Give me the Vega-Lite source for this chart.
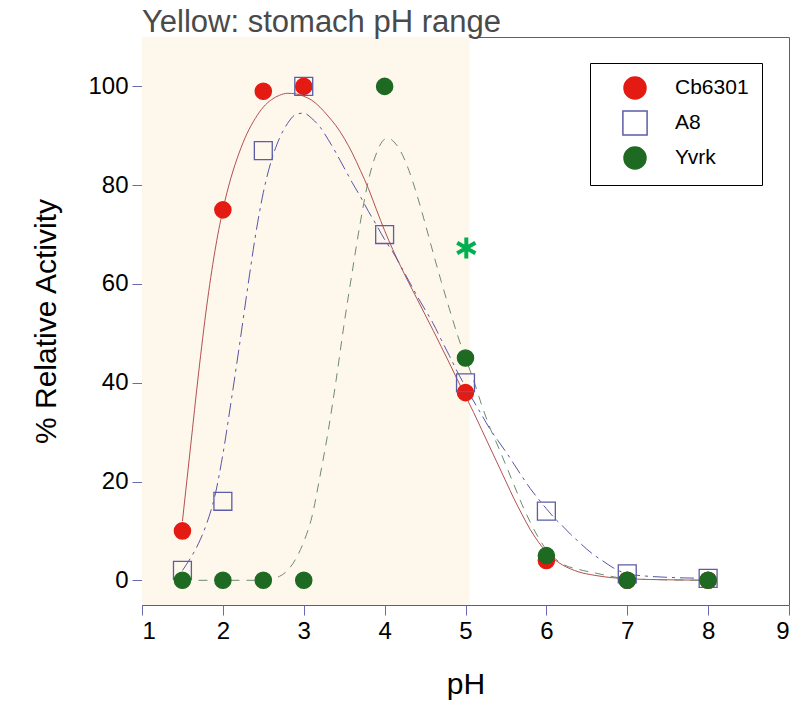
{
  "$schema": "https://vega.github.io/schema/vega-lite/v6.json",
  "width": 647,
  "height": 568,
  "autosize": "none",
  "padding": {"left": 142, "top": 37, "right": 22, "bottom": 98},
  "background": "white",
  "title": {"text": "Yellow: stomach pH range", "anchor": "start", "frame": "group", "fontSize": 31, "font": "Liberation Sans", "fontWeight": "normal", "color": "#4a4a4a", "baseline": "alphabetic", "offset": -26},
  "config": {
    "view": {"stroke": "#606060", "strokeWidth": 1},
    "axis": {"grid": false, "domain": false, "tickColor": "#6a6ab0", "tickSize": 10, "labelFont": "Liberation Sans", "labelFontSize": 24, "labelColor": "black", "labelPadding": 4, "titleFont": "Liberation Sans", "titleFontSize": 30, "titleFontWeight": "normal", "titleColor": "black", "format": "d"}
  },
  "datasets": {
    "shade": [{"x1": 1, "x2": 5.05, "y1": -5, "y2": 110}],
    "sig": [{"pH": 5.01, "activity": 67.3}],
    "points": [
      {"series": "Cb6301", "pH": 1.5, "activity": 10},
      {"series": "Cb6301", "pH": 2, "activity": 75},
      {"series": "Cb6301", "pH": 2.5, "activity": 99},
      {"series": "Cb6301", "pH": 3, "activity": 100},
      {"series": "Cb6301", "pH": 5, "activity": 38},
      {"series": "Cb6301", "pH": 6, "activity": 4},
      {"series": "Cb6301", "pH": 7, "activity": 0},
      {"series": "Cb6301", "pH": 8, "activity": 0},
      {"series": "A8", "pH": 1.5, "activity": 2},
      {"series": "A8", "pH": 2, "activity": 16},
      {"series": "A8", "pH": 2.5, "activity": 87},
      {"series": "A8", "pH": 3, "activity": 100},
      {"series": "A8", "pH": 4, "activity": 70},
      {"series": "A8", "pH": 5, "activity": 40},
      {"series": "A8", "pH": 6, "activity": 14},
      {"series": "A8", "pH": 7, "activity": 1.3},
      {"series": "A8", "pH": 8, "activity": 0.4},
      {"series": "Yvrk", "pH": 1.5, "activity": 0},
      {"series": "Yvrk", "pH": 2, "activity": 0},
      {"series": "Yvrk", "pH": 2.5, "activity": 0},
      {"series": "Yvrk", "pH": 3, "activity": 0},
      {"series": "Yvrk", "pH": 4, "activity": 100},
      {"series": "Yvrk", "pH": 5, "activity": 45},
      {"series": "Yvrk", "pH": 6, "activity": 5},
      {"series": "Yvrk", "pH": 7, "activity": 0},
      {"series": "Yvrk", "pH": 8, "activity": 0}
    ],
    "curves": [
      {"series": "Cb6301", "pH": 1.5, "activity": 12},
      {"series": "Cb6301", "pH": 1.6, "activity": 27},
      {"series": "Cb6301", "pH": 1.7, "activity": 42},
      {"series": "Cb6301", "pH": 1.8, "activity": 55.5},
      {"series": "Cb6301", "pH": 1.9, "activity": 66.5},
      {"series": "Cb6301", "pH": 2.0, "activity": 75},
      {"series": "Cb6301", "pH": 2.1, "activity": 81.5},
      {"series": "Cb6301", "pH": 2.2, "activity": 86.5},
      {"series": "Cb6301", "pH": 2.3, "activity": 90.5},
      {"series": "Cb6301", "pH": 2.4, "activity": 93.5},
      {"series": "Cb6301", "pH": 2.5, "activity": 95.8},
      {"series": "Cb6301", "pH": 2.6, "activity": 97.3},
      {"series": "Cb6301", "pH": 2.7, "activity": 98.2},
      {"series": "Cb6301", "pH": 2.8, "activity": 98.6},
      {"series": "Cb6301", "pH": 2.9, "activity": 98.5},
      {"series": "Cb6301", "pH": 3.0, "activity": 98},
      {"series": "Cb6301", "pH": 3.1, "activity": 97.2},
      {"series": "Cb6301", "pH": 3.2, "activity": 95.8},
      {"series": "Cb6301", "pH": 3.3, "activity": 94},
      {"series": "Cb6301", "pH": 3.4, "activity": 92},
      {"series": "Cb6301", "pH": 3.5, "activity": 89.5},
      {"series": "Cb6301", "pH": 3.6, "activity": 86.5},
      {"series": "Cb6301", "pH": 3.7, "activity": 83},
      {"series": "Cb6301", "pH": 3.8, "activity": 79.3},
      {"series": "Cb6301", "pH": 3.9, "activity": 75},
      {"series": "Cb6301", "pH": 4.0, "activity": 70.8},
      {"series": "Cb6301", "pH": 4.1, "activity": 67},
      {"series": "Cb6301", "pH": 4.2, "activity": 63.5},
      {"series": "Cb6301", "pH": 4.3, "activity": 60.2},
      {"series": "Cb6301", "pH": 4.4, "activity": 57},
      {"series": "Cb6301", "pH": 4.5, "activity": 53.8},
      {"series": "Cb6301", "pH": 4.6, "activity": 50.6},
      {"series": "Cb6301", "pH": 4.7, "activity": 47.3},
      {"series": "Cb6301", "pH": 4.8, "activity": 44},
      {"series": "Cb6301", "pH": 4.9, "activity": 40.6},
      {"series": "Cb6301", "pH": 5.0, "activity": 37.3},
      {"series": "Cb6301", "pH": 5.1, "activity": 34},
      {"series": "Cb6301", "pH": 5.2, "activity": 30.5},
      {"series": "Cb6301", "pH": 5.3, "activity": 27},
      {"series": "Cb6301", "pH": 5.4, "activity": 23.5},
      {"series": "Cb6301", "pH": 5.5, "activity": 20},
      {"series": "Cb6301", "pH": 5.6, "activity": 16.5},
      {"series": "Cb6301", "pH": 5.7, "activity": 13.3},
      {"series": "Cb6301", "pH": 5.8, "activity": 10.3},
      {"series": "Cb6301", "pH": 5.9, "activity": 7.8},
      {"series": "Cb6301", "pH": 6.0, "activity": 5.7},
      {"series": "Cb6301", "pH": 6.1, "activity": 4.2},
      {"series": "Cb6301", "pH": 6.2, "activity": 3.1},
      {"series": "Cb6301", "pH": 6.3, "activity": 2.3},
      {"series": "Cb6301", "pH": 6.4, "activity": 1.7},
      {"series": "Cb6301", "pH": 6.6, "activity": 1},
      {"series": "Cb6301", "pH": 6.8, "activity": 0.55},
      {"series": "Cb6301", "pH": 7.0, "activity": 0.3},
      {"series": "Cb6301", "pH": 7.5, "activity": 0.1},
      {"series": "Cb6301", "pH": 8.0, "activity": 0},
      {"series": "A8", "pH": 1.5, "activity": 2},
      {"series": "A8", "pH": 1.6, "activity": 4.5},
      {"series": "A8", "pH": 1.7, "activity": 7.5},
      {"series": "A8", "pH": 1.8, "activity": 11.5},
      {"series": "A8", "pH": 1.9, "activity": 17},
      {"series": "A8", "pH": 2.0, "activity": 25.5},
      {"series": "A8", "pH": 2.1, "activity": 36},
      {"series": "A8", "pH": 2.2, "activity": 47},
      {"series": "A8", "pH": 2.3, "activity": 58.5},
      {"series": "A8", "pH": 2.4, "activity": 69.5},
      {"series": "A8", "pH": 2.5, "activity": 78.5},
      {"series": "A8", "pH": 2.6, "activity": 85},
      {"series": "A8", "pH": 2.7, "activity": 89.5},
      {"series": "A8", "pH": 2.8, "activity": 92.5},
      {"series": "A8", "pH": 2.9, "activity": 94.3},
      {"series": "A8", "pH": 3.0, "activity": 94.6},
      {"series": "A8", "pH": 3.1, "activity": 93.5},
      {"series": "A8", "pH": 3.2, "activity": 91.8},
      {"series": "A8", "pH": 3.3, "activity": 89.3},
      {"series": "A8", "pH": 3.4, "activity": 86.5},
      {"series": "A8", "pH": 3.5, "activity": 83.5},
      {"series": "A8", "pH": 3.6, "activity": 80.5},
      {"series": "A8", "pH": 3.7, "activity": 77.7},
      {"series": "A8", "pH": 3.8, "activity": 74.7},
      {"series": "A8", "pH": 3.9, "activity": 71.9},
      {"series": "A8", "pH": 4.0, "activity": 69},
      {"series": "A8", "pH": 4.1, "activity": 66.5},
      {"series": "A8", "pH": 4.2, "activity": 63.6},
      {"series": "A8", "pH": 4.3, "activity": 60.6},
      {"series": "A8", "pH": 4.4, "activity": 57.6},
      {"series": "A8", "pH": 4.5, "activity": 54.8},
      {"series": "A8", "pH": 4.6, "activity": 52},
      {"series": "A8", "pH": 4.7, "activity": 48.7},
      {"series": "A8", "pH": 4.8, "activity": 45.5},
      {"series": "A8", "pH": 4.9, "activity": 42.2},
      {"series": "A8", "pH": 5.0, "activity": 39.2},
      {"series": "A8", "pH": 5.1, "activity": 36.3},
      {"series": "A8", "pH": 5.2, "activity": 33.5},
      {"series": "A8", "pH": 5.3, "activity": 30.7},
      {"series": "A8", "pH": 5.4, "activity": 28.3},
      {"series": "A8", "pH": 5.5, "activity": 26},
      {"series": "A8", "pH": 5.6, "activity": 23.5},
      {"series": "A8", "pH": 5.7, "activity": 21},
      {"series": "A8", "pH": 5.8, "activity": 18.6},
      {"series": "A8", "pH": 5.9, "activity": 16.5},
      {"series": "A8", "pH": 6.0, "activity": 14.5},
      {"series": "A8", "pH": 6.1, "activity": 12.6},
      {"series": "A8", "pH": 6.2, "activity": 11},
      {"series": "A8", "pH": 6.3, "activity": 9.3},
      {"series": "A8", "pH": 6.4, "activity": 7.8},
      {"series": "A8", "pH": 6.5, "activity": 6.3},
      {"series": "A8", "pH": 6.6, "activity": 5},
      {"series": "A8", "pH": 6.7, "activity": 3.9},
      {"series": "A8", "pH": 6.8, "activity": 2.8},
      {"series": "A8", "pH": 6.9, "activity": 1.9},
      {"series": "A8", "pH": 7.0, "activity": 1.3},
      {"series": "A8", "pH": 7.2, "activity": 0.9},
      {"series": "A8", "pH": 7.5, "activity": 0.6},
      {"series": "A8", "pH": 8.0, "activity": 0.4},
      {"series": "Yvrk", "pH": 1.5, "activity": 0},
      {"series": "Yvrk", "pH": 2.0, "activity": 0},
      {"series": "Yvrk", "pH": 2.5, "activity": 0},
      {"series": "Yvrk", "pH": 2.6, "activity": 0.3},
      {"series": "Yvrk", "pH": 2.7, "activity": 0.8},
      {"series": "Yvrk", "pH": 2.8, "activity": 2},
      {"series": "Yvrk", "pH": 2.9, "activity": 4.3},
      {"series": "Yvrk", "pH": 3.0, "activity": 7.8},
      {"series": "Yvrk", "pH": 3.1, "activity": 12.8},
      {"series": "Yvrk", "pH": 3.2, "activity": 21},
      {"series": "Yvrk", "pH": 3.3, "activity": 30},
      {"series": "Yvrk", "pH": 3.4, "activity": 40.5},
      {"series": "Yvrk", "pH": 3.5, "activity": 52},
      {"series": "Yvrk", "pH": 3.6, "activity": 62.5},
      {"series": "Yvrk", "pH": 3.7, "activity": 72.5},
      {"series": "Yvrk", "pH": 3.8, "activity": 81},
      {"series": "Yvrk", "pH": 3.9, "activity": 86.5},
      {"series": "Yvrk", "pH": 4.0, "activity": 89.3},
      {"series": "Yvrk", "pH": 4.05, "activity": 89.5},
      {"series": "Yvrk", "pH": 4.1, "activity": 89},
      {"series": "Yvrk", "pH": 4.2, "activity": 86.8},
      {"series": "Yvrk", "pH": 4.3, "activity": 83},
      {"series": "Yvrk", "pH": 4.4, "activity": 78},
      {"series": "Yvrk", "pH": 4.5, "activity": 72.3},
      {"series": "Yvrk", "pH": 4.6, "activity": 66.3},
      {"series": "Yvrk", "pH": 4.7, "activity": 60.5},
      {"series": "Yvrk", "pH": 4.8, "activity": 55},
      {"series": "Yvrk", "pH": 4.9, "activity": 49.7},
      {"series": "Yvrk", "pH": 5.0, "activity": 45},
      {"series": "Yvrk", "pH": 5.1, "activity": 40.5},
      {"series": "Yvrk", "pH": 5.2, "activity": 35.5},
      {"series": "Yvrk", "pH": 5.3, "activity": 31},
      {"series": "Yvrk", "pH": 5.4, "activity": 27.2},
      {"series": "Yvrk", "pH": 5.5, "activity": 23.3},
      {"series": "Yvrk", "pH": 5.6, "activity": 19.3},
      {"series": "Yvrk", "pH": 5.7, "activity": 15.3},
      {"series": "Yvrk", "pH": 5.8, "activity": 11.8},
      {"series": "Yvrk", "pH": 5.9, "activity": 8.7},
      {"series": "Yvrk", "pH": 6.0, "activity": 6.2},
      {"series": "Yvrk", "pH": 6.1, "activity": 4.5},
      {"series": "Yvrk", "pH": 6.2, "activity": 3.3},
      {"series": "Yvrk", "pH": 6.4, "activity": 2.2},
      {"series": "Yvrk", "pH": 6.6, "activity": 1.5},
      {"series": "Yvrk", "pH": 6.8, "activity": 0.8},
      {"series": "Yvrk", "pH": 7.0, "activity": 0.3},
      {"series": "Yvrk", "pH": 7.5, "activity": 0.1},
      {"series": "Yvrk", "pH": 8.0, "activity": 0}
    ]
  },
  "layer": [
    {
      "data": {"name": "shade"},
      "mark": {"type": "rect", "fill": "#fef7ec"},
      "encoding": {
        "x": {"field": "x1", "type": "quantitative", "scale": {"domain": [1, 9], "nice": false, "zero": false}, "axis": {"title": "pH", "values": [1, 2, 3, 4, 5, 6, 7, 8, 9], "titlePadding": 26}},
        "x2": {"field": "x2"},
        "y": {"field": "y1", "type": "quantitative", "scale": {"domain": [-5, 110], "nice": false, "zero": false}, "axis": {"title": "% Relative Activity", "values": [0, 20, 40, 60, 80, 100], "titlePadding": 26}},
        "y2": {"field": "y2"}
      }
    },
    {
      "data": {"name": "curves"},
      "transform": [{"filter": "datum.series === 'Cb6301'"}],
      "mark": {"type": "line", "interpolate": "monotone", "stroke": "#b35050", "strokeWidth": 1},
      "encoding": {"x": {"field": "pH", "type": "quantitative"}, "y": {"field": "activity", "type": "quantitative"}}
    },
    {
      "data": {"name": "curves"},
      "transform": [{"filter": "datum.series === 'A8'"}],
      "mark": {"type": "line", "interpolate": "monotone", "stroke": "#5555a8", "strokeWidth": 1, "strokeDash": [14, 5, 3, 5]},
      "encoding": {"x": {"field": "pH", "type": "quantitative"}, "y": {"field": "activity", "type": "quantitative"}}
    },
    {
      "data": {"name": "curves"},
      "transform": [{"filter": "datum.series === 'Yvrk'"}],
      "mark": {"type": "line", "interpolate": "monotone", "stroke": "#6f8a6f", "strokeWidth": 1, "strokeDash": [9, 7]},
      "encoding": {"x": {"field": "pH", "type": "quantitative"}, "y": {"field": "activity", "type": "quantitative"}}
    },
    {
      "data": {"name": "points"},
      "mark": {"type": "point", "size": 265, "strokeWidth": 1.3, "opacity": 1},
      "encoding": {
        "x": {"field": "pH", "type": "quantitative"},
        "y": {"field": "activity", "type": "quantitative"},
        "fill": {"field": "series", "type": "nominal", "scale": {"domain": ["Cb6301", "A8", "Yvrk"], "range": ["#e31b12", "transparent", "#1f6a22"]},
          "legend": {
            "title": null, "orient": "none", "legendX": 448, "legendY": 26,
            "padding": 13, "rowPadding": 5, "symbolOffset": 20, "labelOffset": 28,
            "symbolSize": 484, "labelFont": "Liberation Sans", "labelFontSize": 21,
            "strokeColor": "black"
          }
        },
        "stroke": {"field": "series", "type": "nominal", "scale": {"domain": ["Cb6301", "A8", "Yvrk"], "range": ["#e31b12", "#5c5ca8", "#1f6a22"]}},
        "shape": {"field": "series", "type": "nominal", "scale": {"domain": ["Cb6301", "A8", "Yvrk"], "range": ["circle", "M-1.1,-1.1H1.1V1.1H-1.1Z", "circle"]}}
      }
    },
    {
      "data": {"name": "sig"},
      "mark": {"type": "point", "shape": "M0,-1V1M-0.87,-0.5L0.87,0.5M-0.87,0.5L0.87,-0.5", "size": 440, "stroke": "#00b050", "strokeWidth": 4, "fill": null, "filled": false, "opacity": 1},
      "encoding": {"x": {"field": "pH", "type": "quantitative"}, "y": {"field": "activity", "type": "quantitative"}}
    }
  ]
}
